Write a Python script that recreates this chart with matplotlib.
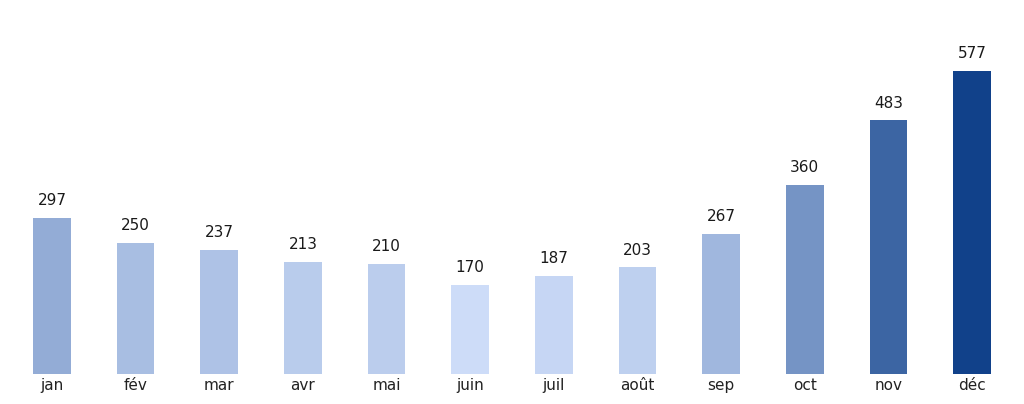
import matplotlib
matplotlib.use("Agg")
import matplotlib.pyplot as plt
from matplotlib.colors import LinearSegmentedColormap, Normalize

months = ["jan", "fév", "mar", "avr", "mai", "juin", "juil", "août", "sep", "oct", "nov", "déc"]
values = [297, 250, 237, 213, 210, 170, 187, 203, 267, 360, 483, 577]

cmap = LinearSegmentedColormap.from_list("blues", ["#cddcf8", "#11418a"])
norm = Normalize(vmin=min(values), vmax=max(values))
colors = [cmap(norm(v)) for v in values]

fig = plt.figure(figsize=(10.24, 4.04), dpi=100)
ax = fig.add_axes([0, 30 / 404, 1, 357 / 404])

x = list(range(len(months)))
bars = ax.bar(x, values, width=0.45, color=colors)
for b, v in zip(bars, values):
    ax.annotate(str(v), (b.get_x() + b.get_width() / 2, v), xytext=(0, 7),
                textcoords="offset points", ha="center", va="bottom",
                fontsize=11, color="#1a1a1a")

ax.set_xlim(-0.622, 11.622)
ax.set_ylim(0, 680)
ax.set_xticks(x)
ax.set_xticklabels(months, fontsize=11, color="#222222")
ax.tick_params(axis="x", length=0, pad=3)
ax.set_yticks([])
for s in ax.spines.values():
    s.set_visible(False)

fig.savefig("out.png", dpi=100)
